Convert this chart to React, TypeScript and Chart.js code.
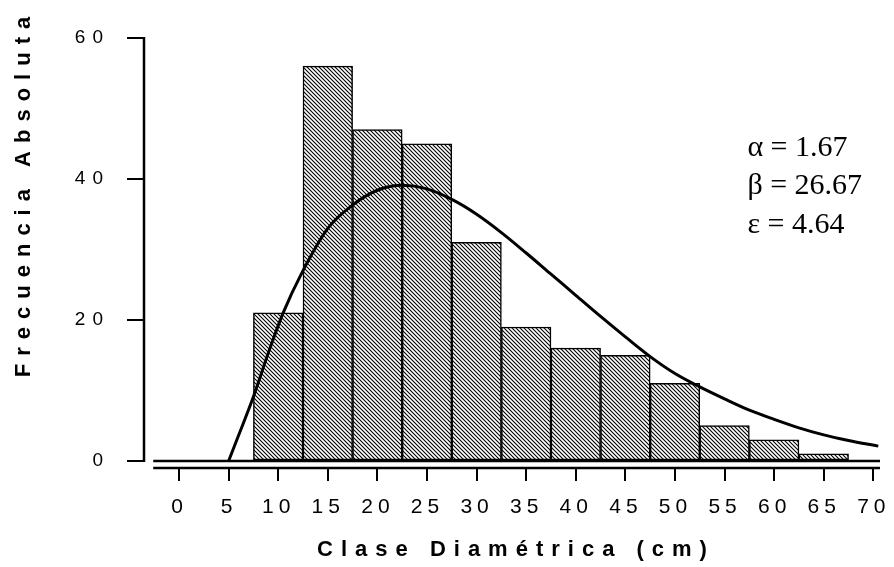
import React, { useEffect, useRef } from "react";
import { Chart, registerables } from "chart.js";

Chart.register(...registerables);

// Diameter classes (cm, class centre) and observed tree counts
const binCenters = [10, 15, 20, 25, 30, 35, 40, 45, 50, 55, 60, 65];
const frequencies = [21, 56, 47, 45, 31, 19, 16, 15, 11, 5, 3, 1];

// Fitted Weibull curve, sampled along the diameter axis
const curveX = [5, 6, 7.5, 9, 10.5, 12.5, 15, 17.5, 20, 22.5, 25, 27.5, 30, 32.5, 35, 37.5, 40, 42.5, 45, 47.5, 50, 52.5, 55, 57.5, 60, 62.5, 65, 67.5, 70.5];
const curveY = [0, 3.6, 9.1, 15.3, 21, 27, 33, 36.3, 38.4, 39.1, 38.6, 37.1, 35, 32.4, 29.5, 26.5, 23.5, 20.5, 17.6, 14.8, 12.4, 10.5, 8.8, 7.2, 5.9, 4.7, 3.7, 2.9, 2.1];

// Axis ticks
const xTickValues = [0, 5, 10, 15, 20, 25, 30, 35, 40, 45, 50, 55, 60, 65, 70];
const yTickValues = [0, 20, 40, 60];

// Texts
const xTitle = "Clase Diamétrica (cm)";
const yTitle = "Frecuencia Absoluta";
const paramLines = ["α = 1.67", "β = 26.67", "ε = 4.64"];

const SANS = '"Liberation Sans", Arial, Helvetica, sans-serif';
const SERIF = '"Liberation Serif", "Times New Roman", serif';

function makeHatch(): CanvasPattern | string {
  const tile = document.createElement("canvas");
  tile.width = 4;
  tile.height = 4;
  const g = tile.getContext("2d");
  if (!g) return "#888";
  g.fillStyle = "#fff";
  g.fillRect(0, 0, 4, 4);
  g.strokeStyle = "#000";
  g.lineWidth = 1.1;
  g.beginPath();
  g.moveTo(-1, -1);
  g.lineTo(5, 5);
  g.moveTo(-1, 3);
  g.lineTo(1, 5);
  g.moveTo(3, -1);
  g.lineTo(5, 1);
  g.stroke();
  const p = g.createPattern(tile, "repeat");
  return p || "#888";
}

// Draws text with extra letter spacing, aligned on its visible extent
function drawSpaced(
  ctx: CanvasRenderingContext2D,
  text: string,
  x: number,
  y: number,
  spacing: number,
  align: "left" | "center" | "right"
) {
  ctx.save();
  (ctx as any).letterSpacing = `${spacing}px`;
  const supported = (ctx as any).letterSpacing === `${spacing}px`;
  const full = ctx.measureText(text).width;
  const ink = supported ? full - spacing : full;
  let start = x;
  if (align === "center") start = x - ink / 2;
  else if (align === "right") start = x - ink;
  ctx.textAlign = "left";
  ctx.fillText(text, start, y);
  ctx.restore();
}

const decorPlugin = {
  id: "decor",
  afterDatasetsDraw(chart: any) {
    const { ctx, chartArea, scales } = chart;
    const x = scales.x;
    const y = scales.y;
    ctx.save();
    ctx.strokeStyle = "#000";
    ctx.lineWidth = 2.5;
    const xStart = x.getPixelForValue(-2.6);
    const yZero = y.getPixelForValue(0);
    // zero line under the bars
    ctx.beginPath();
    ctx.moveTo(xStart, yZero);
    ctx.lineTo(chartArea.right, yZero);
    ctx.stroke();
    // x axis line
    ctx.beginPath();
    ctx.moveTo(xStart, chartArea.bottom);
    ctx.lineTo(chartArea.right, chartArea.bottom);
    ctx.stroke();
    // y axis line
    ctx.beginPath();
    ctx.moveTo(chartArea.left, y.getPixelForValue(60) - 1);
    ctx.lineTo(chartArea.left, yZero + 1);
    ctx.stroke();
    ctx.restore();
  },
  afterDraw(chart: any) {
    const { ctx, chartArea, scales } = chart;
    const x = scales.x;
    const y = scales.y;
    ctx.save();
    ctx.fillStyle = "#000";
    ctx.textBaseline = "middle";

    // x tick labels
    ctx.font = `21px ${SANS}`;
    for (const v of xTickValues) {
      drawSpaced(ctx, String(v), x.getPixelForValue(v) - 2, chartArea.bottom + 39, 5, "center");
    }
    // y tick labels
    ctx.font = `19px ${SANS}`;
    for (const v of yTickValues) {
      drawSpaced(ctx, String(v), chartArea.left - 41, y.getPixelForValue(v), 7, "right");
    }

    // axis titles
    ctx.font = `bold 22px ${SANS}`;
    drawSpaced(ctx, xTitle, (chartArea.left + chartArea.right) / 2, chartArea.bottom + 82, 8, "center");
    ctx.save();
    ctx.translate(24, 197);
    ctx.rotate(-Math.PI / 2);
    drawSpaced(ctx, yTitle, 0, 0, 8, "center");
    ctx.restore();

    // fitted parameters
    ctx.font = `30px ${SERIF}`;
    ctx.textBaseline = "alphabetic";
    ctx.textAlign = "left";
    const px = x.getPixelForValue(57.3);
    const py = y.getPixelForValue(43.3);
    paramLines.forEach((t, i) => {
      ctx.fillText(t, px, py + i * 38.5);
    });
    ctx.restore();
  },
};

export default function App() {
  const canvasRef = useRef<HTMLCanvasElement>(null);

  useEffect(() => {
    const canvas = canvasRef.current;
    if (!canvas) return;
    const hatch = makeHatch();

    const chart = new Chart(canvas, {
      type: "bar",
      data: {
        datasets: [
          {
            type: "line",
            data: curveX.map((cx, i) => ({ x: cx, y: curveY[i] })),
            borderColor: "#000",
            borderWidth: 3,
            pointRadius: 0,
            cubicInterpolationMode: "monotone",
            fill: false,
            order: 0,
          } as any,
          {
            type: "bar",
            data: binCenters.map((c, i) => ({ x: c, y: frequencies[i] })),
            backgroundColor: hatch as any,
            borderColor: "#000",
            borderWidth: 1.5,
            borderSkipped: false,
            barPercentage: 1,
            categoryPercentage: 1,
            order: 1,
          } as any,
        ],
      },
      options: {
        animation: false,
        responsive: true,
        maintainAspectRatio: false,
        layout: { padding: { left: 0, right: 14, top: 38, bottom: 0 } },
        plugins: {
          legend: { display: false },
          tooltip: { enabled: false },
        },
        scales: {
          x: {
            type: "linear",
            min: -3.53,
            max: 70.67,
            offset: false,
            afterBuildTicks: (s: any) => {
              s.ticks = xTickValues.map((v) => ({ value: v }));
            },
            afterFit: (s: any) => {
              s.height = 99;
            },
            ticks: { display: false },
            grid: {
              offset: false,
              drawOnChartArea: false,
              drawTicks: true,
              tickLength: 13,
              lineWidth: 2,
              color: "#000",
            },
            border: { display: false },
          },
          y: {
            type: "linear",
            min: -1,
            max: 60,
            afterBuildTicks: (s: any) => {
              s.ticks = yTickValues.map((v) => ({ value: v }));
            },
            afterFit: (s: any) => {
              s.width = 144;
            },
            ticks: { display: false },
            grid: {
              offset: false,
              drawOnChartArea: false,
              drawTicks: true,
              tickLength: 17,
              lineWidth: 2,
              color: "#000",
            },
            border: { display: false },
          },
        } as any,
      },
      plugins: [decorPlugin],
    });

    return () => chart.destroy();
  }, []);

  return (
    <div
      style={{
        position: "fixed",
        left: 0,
        top: 0,
        width: 894,
        height: 567,
        background: "#fff",
      }}
    >
      <canvas ref={canvasRef} />
    </div>
  );
}
